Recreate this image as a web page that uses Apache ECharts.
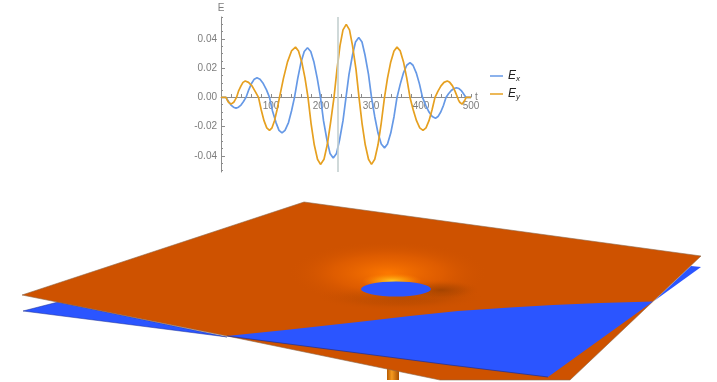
<!DOCTYPE html>
<html>
<head>
<meta charset="utf-8">
<title>E field and surfaces</title>
<script src="https://cdn.jsdelivr.net/npm/echarts@6/dist/echarts.min.js"></script>
<style>
	html, body { margin: 0; padding: 0; background: #fff; }
	#main { width: 717px; height: 382px; filter: blur(0.4px); }
</style>
</head>
<body>
<div id="main"></div>
<script>
	// field curves: [t, E]
	var exPoints = [[0,0],[10,0],[15,-0.0028],[20,-0.0052],[25,-0.0067],[30,-0.0073],[35,-0.0067],[40,-0.0052],[45,-0.0028],[50,0],
		[55.5,0.0052],[61,0.0095],[66.5,0.0125],[72,0.0135],[78,0.0125],[84.5,0.0095],[91,0.0052],[97,0],
		[103,-0.0093],[110,-0.0172],[116,-0.0225],[122,-0.0243],[128,-0.0225],[135,-0.0172],[141,-0.0093],[147,0],
		[153.5,0.013],[160,0.024],[166.5,0.0314],[173,0.034],[179.5,0.0314],[186,0.024],[192.5,0.013],[199,0],
		[205,-0.0159],[212,-0.0293],[218,-0.0383],[224.5,-0.0415],[231,-0.0383],[237,-0.0293],[244,-0.0159],[250,0],
		[256,0.0157],[263,0.029],[269,0.0379],[275.5,0.041],[282,0.0379],[288,0.029],[295,0.0157],[301,0],
		[307.5,-0.0132],[314,-0.0244],[320.5,-0.0319],[327,-0.0345],[333,-0.0319],[339.5,-0.0244],[346,-0.0132],[352,0],
		[358.5,0.0091],[365,0.0168],[371.5,0.022],[378,0.0238],[384,0.022],[390.5,0.0168],[397,0.0091],[403,0],
		[409.5,-0.0054],[416,-0.01],[422.5,-0.0131],[429,-0.0142],[434,-0.0131],[439.5,-0.01],[445,-0.0054],[450,0],
		[455,0.0025],[460.5,0.0047],[466,0.0061],[471,0.0066],[476,0.0061],[480.5,0.0047],[485,0.0025],[490,0],[500,0]];
	var eyPoints = [[0,0],[10,0],[12.5,-0.0018],[15,-0.0033],[17.5,-0.0043],[20,-0.0046],[23,-0.0043],[25.5,-0.0033],[28,-0.0018],[31,0],
		[35,0.0043],[40,0.0079],[44,0.0103],[48.5,0.0112],[55,0.0103],[62,0.0079],[68,0.0043],[75,0],
		[80.5,-0.0086],[86,-0.0159],[91.5,-0.0208],[97,-0.0225],[102,-0.0208],[107,-0.0159],[112,-0.0086],[117,0],
		[125,0.0132],[133,0.0243],[141,0.0318],[149,0.0344],[155,0.0318],[161.5,0.0243],[168,0.0132],[174,0],
		[180,-0.0175],[186.5,-0.0324],[193,-0.0423],[199,-0.0458],[206,-0.0423],[212.5,-0.0324],[219,-0.0175],[226,0],
		[232,0.0192],[238,0.0354],[244,0.0462],[250.5,0.05],[257,0.0462],[263,0.0354],[270,0.0192],[276,0],
		[282,-0.0175],[288.5,-0.0324],[295,-0.0423],[301,-0.0458],[307.5,-0.0423],[314,-0.0324],[320.5,-0.0175],[327,0],
		[333,0.0132],[339.5,0.0243],[346,0.0318],[352,0.0344],[358.5,0.0318],[365,0.0243],[371.5,0.0132],[378,0],
		[384.5,-0.0086],[391,-0.0159],[397.5,-0.0208],[404,-0.0225],[410,-0.0208],[416,-0.0159],[422,-0.0086],[428,0],
		[434,0.0043],[440,0.0079],[446,0.0103],[452.5,0.0112],[457.5,0.0103],[463,0.0079],[468,0.0043],[473,0],
		[475,-0.0018],[477.5,-0.0033],[480,-0.0043],[482,-0.0046],[484,-0.0043],[486,-0.0033],[488,-0.0018],[490,0],[500,0]];
	var cursorTime = 234;

	var xLabels = [100, 200, 300, 400, 500];
	var xMinorTicks = [20,40,60,80,120,140,160,180,220,240,260,280,320,340,360,380,420,440,460,480];
	var yLabels = [-0.04, -0.02, 0, 0.02, 0.04];
	var yMinorTicks = [-0.05,-0.03,-0.01,0.01,0.03,0.05,-0.045,-0.035,-0.025,-0.015,-0.005,0.005,0.015,0.025,0.035,0.045,0.055];

	// surface outlines on the scene axes
	var orangeSheet = [[22,295],[304,202],[701,256],[570,380],[440,380],[358,363],[227,336]];
	var blueLeft = [[23,311],[58,302],[227,337]];
	var blueRight = [[654,301],[691,266],[701,267]];
	var blueFront = [[227,336],[290,329.5],[358,322],[410,316],[458,311],[510,307.5],[553,305],[600,303],[653,301.5],[548,377],[450,365],[358,353]];
	var blueEdge = [[227,336],[358,353],[450,365],[548,377]];
	var stem = [[387,368],[399,370],[399,380],[387,380]];
	// [cx, cy, rx, ry]
	var shadeSpot = [400, 297, 85, 14];
	var glowSpot = [388, 273, 100, 32];
	var flareSpot = [392, 281, 30, 8];
	var sideShade = [441, 290, 40, 10];
	var hole = [396, 289, 35, 7.5];

	var myChart = echarts.init(document.getElementById('main'), null, {renderer: 'canvas'});

	function shapeSeries(name, points, shapeType, style) {
		return {
			type: 'custom', name: name, xAxisIndex: 1, yAxisIndex: 2, data: points, silent: true,
			clip: false, z: 1,
			renderItem: function (params, api) {
				if (params.dataIndex !== 0) { return null; }
				return {
					type: shapeType,
					shape: {points: points.map(function (p) { return api.coord(p); })},
					style: style
				};
			}
		};
	}

	function ellipseSeries(name, spot, fill) {
		return {
			type: 'custom', name: name, xAxisIndex: 1, yAxisIndex: 2, data: [spot], silent: true,
			clip: false, z: 1,
			renderItem: function (params, api) {
				var c = api.coord([spot[0], spot[1]]);
				return {
					type: 'circle',
					x: c[0], y: c[1], scaleY: spot[3] / spot[2],
					shape: {cx: 0, cy: 0, r: api.size([spot[2], 0])[0]},
					style: {fill: fill}
				};
			}
		};
	}

	function radial(inner, middle, outer) {
		return new echarts.graphic.RadialGradient(0.5, 0.5, 0.5, [
			{offset: 0, color: inner}, {offset: 0.55, color: middle}, {offset: 1, color: outer}
		]);
	}

	var axisGray = '#8c8c8c';
	var textGray = '#7d7d7d';
	var legendRich = {
		e: {fontFamily: 'Liberation Sans', fontStyle: 'italic', fontSize: 12, color: '#222'},
		s: {fontFamily: 'Liberation Sans', fontStyle: 'italic', fontSize: 8, color: '#222', padding: [5, 0, 0, 0]}
	};

	myChart.setOption({
		animation: false,
		backgroundColor: '#fff',
		grid: [
			{left: 221, top: 17, width: 250, height: 155},
			{left: 0, top: 0, width: 717, height: 382, show: false}
		],
		legend: {
			data: ['Ex', 'Ey'], orient: 'vertical', left: 490, top: 70, padding: 0, icon: 'rect',
			itemWidth: 13, itemHeight: 1.5, itemGap: 5.5,
			formatter: function (name) { return '{e|E}{s|' + name.charAt(1) + '}'; },
			textStyle: {rich: legendRich}
		},
		xAxis: [
			{
				type: 'value', gridIndex: 0, min: 0, max: 500, name: 't', nameGap: 4, nameMoveOverlap: false,
				position: 'bottom', offset: -75,
				nameTextStyle: {color: textGray, fontSize: 10, fontFamily: 'Liberation Sans'},
				axisLine: {onZero: false, lineStyle: {color: axisGray}},
				axisTick: {inside: true, length: 3, customValues: xLabels.concat(xMinorTicks), lineStyle: {color: axisGray}},
				axisLabel: {customValues: xLabels, color: textGray, fontSize: 10, margin: 4, fontFamily: 'Liberation Sans', hideOverlap: false},
				splitLine: {show: false}
			},
			{type: 'value', gridIndex: 1, min: 0, max: 717, show: false}
		],
		yAxis: [
			{
				type: 'value', gridIndex: 0, min: -0.051, max: 0.055, name: 'E', nameGap: 4,
				nameTextStyle: {color: textGray, fontSize: 10, fontFamily: 'Liberation Sans'},
				axisLine: {onZero: false, lineStyle: {color: axisGray}},
				axisTick: {inside: true, length: 4, customValues: yLabels, lineStyle: {color: axisGray}},
				axisLabel: {
					customValues: yLabels, color: textGray, fontSize: 10, margin: 4, fontFamily: 'Liberation Sans',
					formatter: function (v) { return v.toFixed(2); }
				},
				splitLine: {show: false}
			},
			{
				type: 'value', gridIndex: 0, min: -0.051, max: 0.055, position: 'left',
				axisLine: {show: false},
				axisTick: {show: true, inside: true, length: 2, customValues: yMinorTicks, lineStyle: {color: axisGray}},
				axisLabel: {show: false},
				splitLine: {show: false}
			},
			{type: 'value', gridIndex: 1, min: 0, max: 382, inverse: true, show: false}
		],
		series: [
			shapeSeries('stem', stem, 'polygon', {
				fill: new echarts.graphic.LinearGradient(0, 0, 1, 0, [
					{offset: 0, color: '#b85a00'}, {offset: 0.4, color: '#f59a20'}, {offset: 1, color: '#a84e00'}
				])
			}),
			shapeSeries('blueLeft', blueLeft, 'polygon', {fill: '#2b55ff', stroke: '#1c2f90', lineWidth: 0.5}),
			shapeSeries('blueRight', blueRight, 'polygon', {fill: '#2b55ff'}),
			shapeSeries('orangeSheet', orangeSheet, 'polygon', {fill: '#ce5200', stroke: '#8f6a4c', lineWidth: 0.6}),
			ellipseSeries('shade', shadeSpot, radial('rgba(150,62,0,0.6)', 'rgba(170,70,0,0.3)', 'rgba(206,82,0,0)')),
			ellipseSeries('glow', glowSpot, radial('rgba(255,122,0,0.95)', 'rgba(238,102,0,0.5)', 'rgba(206,82,0,0)')),
			ellipseSeries('flare', flareSpot, radial('rgba(255,205,40,1)', 'rgba(255,160,10,0.6)', 'rgba(255,125,0,0)')),
			ellipseSeries('sideShade', sideShade, radial('rgba(150,62,0,0.75)', 'rgba(165,68,0,0.35)', 'rgba(206,82,0,0)')),
			ellipseSeries('hole', hole, '#2b55ff'),
			shapeSeries('blueFront', blueFront, 'polygon', {fill: '#2b55ff'}),
			shapeSeries('blueEdge', blueEdge, 'polyline', {fill: null, stroke: '#1c2f90', lineWidth: 0.7}),
			{
				name: 'Ex', type: 'line', xAxisIndex: 0, yAxisIndex: 0, data: exPoints, symbol: 'none', z: 3,
				color: '#6699e6', lineStyle: {color: '#6699e6', width: 1.7}
			},
			{
				name: 'Ey', type: 'line', xAxisIndex: 0, yAxisIndex: 0, data: eyPoints, symbol: 'none', z: 3,
				color: '#e6a020', lineStyle: {color: '#e6a020', width: 1.7},
				markLine: {
					silent: true, symbol: 'none', label: {show: false},
					lineStyle: {color: '#c4d0d0', width: 1.6, type: 'solid'},
					data: [{xAxis: cursorTime}]
				}
			}
		]
	});
</script>
</body>
</html>
